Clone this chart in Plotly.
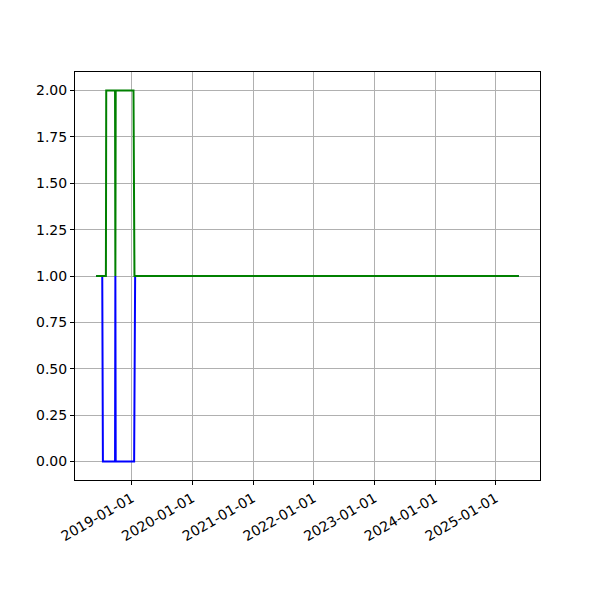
import plotly.graph_objects as go

# Series data
green_dates = ["2018-06-01", "2018-07-30", "2018-08-01", "2018-09-23", "2018-09-25",
               "2018-09-27", "2019-01-12", "2019-01-18", "2025-05-20"]
green_values = [1, 1, 2, 2, 1, 2, 2, 1, 1]

blue_dates = ["2018-06-01", "2018-07-08", "2018-07-12", "2018-09-23", "2018-09-25",
              "2018-09-27", "2019-01-16", "2019-01-22", "2025-05-20"]
blue_values = [1, 1, 0, 0, 1, 0, 0, 1, 1]

y_ticks = [0.0, 0.25, 0.5, 0.75, 1.0, 1.25, 1.5, 1.75, 2.0]
x_ticks = ["2019-01-01", "2020-01-01", "2021-01-01", "2022-01-01",
           "2023-01-01", "2024-01-01", "2025-01-01"]

fig = go.Figure()
fig.add_trace(go.Scatter(x=blue_dates, y=blue_values, mode="lines",
                         line=dict(color="#0000ff", width=2), showlegend=False))
fig.add_trace(go.Scatter(x=green_dates, y=green_values, mode="lines",
                         line=dict(color="#008000", width=2), showlegend=False))

axis_common = dict(showline=True, linecolor="black", linewidth=1, mirror=True,
                   showgrid=True, gridcolor="#b0b0b0", gridwidth=1,
                   ticks="outside", ticklen=4, tickcolor="black", tickwidth=1,
                   zeroline=False, automargin=False,
                   tickfont=dict(family="DejaVu Sans", size=14, color="black"))

fig.update_xaxes(range=["2018-01-25", "2025-09-24"], tickvals=x_ticks,
                 ticktext=x_ticks, tickangle=-30, **axis_common)
fig.update_yaxes(range=[-0.1, 2.1], tickvals=y_ticks,
                 ticktext=[f"{v:.2f}" for v in y_ticks], **axis_common)

# page body adds an 8px offset, compensated in the margins
fig.update_layout(width=600, height=600, plot_bgcolor="white", paper_bgcolor="white",
                  margin=dict(l=67, r=68, t=64, b=128), showlegend=False)

fig.write_html("out.html")
